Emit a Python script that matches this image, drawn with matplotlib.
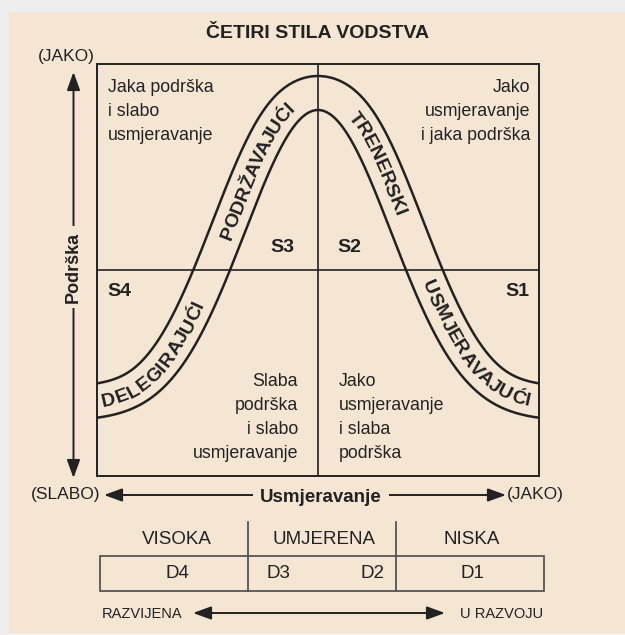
import numpy as np
import matplotlib
matplotlib.use("Agg")
import matplotlib.pyplot as plt
from matplotlib.patches import Rectangle, FancyArrowPatch
from matplotlib.font_manager import FontProperties
from matplotlib.textpath import TextToPath

# ---- chart content ----
title = "ČETIRI STILA VODSTVA"
style_names = ["DELEGIRAJUĆI", "PODRŽAVAJUĆI", "TRENERSKI", "USMJERAVAJUĆI"]
style_codes = ["S4", "S3", "S2", "S1"]
text_top_left = ["Jaka podrška", "i slabo", "usmjeravanje"]
text_top_right = ["Jako", "usmjeravanje", "i jaka podrška"]
text_bottom_left = ["Slaba", "podrška", "i slabo", "usmjeravanje"]
text_bottom_right = ["Jako", "usmjeravanje", "i slaba", "podrška"]
y_axis_label = "Podrška"
x_axis_label = "Usmjeravanje"
high_label, low_label = "(JAKO)", "(SLABO)"
dev_levels = ["VISOKA", "UMJERENA", "NISKA"]
dev_codes = ["D4", "D3", "D2", "D1"]
dev_ends = ["RAZVIJENA", "U RAZVOJU"]

# ---- layout (pixels, y down) ----
W, H = 625, 635
L, T, R, B = 97, 64, 539, 476          # main box
MX, MY = 318, 270                      # quadrant dividers
BAND = 34                              # width of the bell band
INK = "#222222"
BEIGE = "#f5e6d3"
FONT = "Liberation Sans"

fig = plt.figure(figsize=(W / 100, H / 100), dpi=100, facecolor="#eeeeee")
ax = fig.add_axes([0, 0, 1, 1])
ax.set_xlim(0, W)
ax.set_ylim(H, 0)
ax.axis("off")
ax.add_patch(Rectangle((9, 12), W, H - 14, facecolor=BEIGE, edgecolor="none", zorder=0))


def txt(x, y, s, size=12.8, weight="normal", ha="center", va="center", **kw):
    return ax.text(x, y, s, fontsize=size, fontweight=weight, ha=ha, va=va,
                   color=INK, family=FONT, **kw)


txt(MX, 33, title, size=14, weight="bold")

# box and dividers
ax.add_patch(Rectangle((L, T), R - L, B - T, fill=False, edgecolor=INK, lw=1.4, zorder=2))
ax.plot([MX, MX], [T, B], color=INK, lw=1.2, zorder=2)
ax.plot([L, R], [MY, MY], color=INK, lw=1.2, zorder=2)

# bell band
xs = np.linspace(40, 600, 1500)
dx = xs - MX
inner = B - (55 + 311 * np.exp(-dx ** 2 * 9.33e-5))


def offset(x, y, d):
    tx, ty = np.gradient(x), np.gradient(y)
    n = np.hypot(tx, ty)
    return x + d * ty / n, y - d * tx / n


outer_x, outer_y = offset(xs, inner, BAND)
mid_x, mid_y = offset(xs, inner, BAND / 2)
clip = Rectangle((L, T), R - L, B - T, transform=ax.transData)
for cx, cy in [(xs, inner), (outer_x, outer_y)]:
    ln, = ax.plot(cx, cy, color=INK, lw=1.8, zorder=3)
    ln.set_clip_path(clip)


def text_on_curve(s, cx, size=14.0):
    fp = FontProperties(family=FONT, size=size, weight="bold")
    ttp = TextToPath()
    k = 100 / 72
    widths = [0.0] + [ttp.get_text_width_height_descent(s[:i], fp, ismath=False)[0] * k
                      for i in range(1, len(s) + 1)]
    tx, ty = np.gradient(mid_x), np.gradient(mid_y)
    arc = np.concatenate([[0], np.cumsum(np.hypot(np.diff(mid_x), np.diff(mid_y)))])
    s0 = np.interp(cx, mid_x, arc) - widths[-1] / 2
    cap = 0.716 * size * k
    for i, ch in enumerate(s):
        p = s0 + (widths[i] + widths[i + 1]) / 2
        x = np.interp(p, arc, mid_x)
        y = np.interp(p, arc, mid_y)
        ux = np.interp(p, arc, tx)
        uy = np.interp(p, arc, ty)
        n = np.hypot(ux, uy)
        ux, uy = ux / n, uy / n
        # shift baseline toward the inner side so glyphs sit centred in the band
        bx, by = x - (cap / 2) * uy, y + (cap / 2) * ux
        ax.text(bx, by, ch, fontproperties=fp, color=INK, ha="center", va="baseline",
                rotation=np.degrees(np.arctan2(-uy, ux)), rotation_mode="anchor", zorder=4)


for name, cx in zip(style_names, [162, 252, 381, 466]):
    text_on_curve(name, cx)

# quadrant texts
step = 24
for i, line in enumerate(text_top_left):
    txt(108, 88 + i * step, line, ha="left")
for i, line in enumerate(text_top_right):
    txt(530, 87 + i * step, line, ha="right")
for i, line in enumerate(text_bottom_left):
    txt(298, 382 + i * step, line, ha="right")
for i, line in enumerate(text_bottom_right):
    txt(339, 382 + i * step, line, ha="left")

for code, (x, y) in zip(style_codes, [(119, 292), (282, 247), (349, 247), (517, 292)]):
    txt(x, y, code, size=14, weight="bold")

# axes arrows
head = "<|-|>,head_length=1.1,head_width=0.4"
ax.add_patch(FancyArrowPatch((73.5, 72), (73.5, 478), arrowstyle=head, mutation_scale=10,
                             color=INK, lw=1.4, shrinkA=0, shrinkB=0, zorder=2))
txt(73.5, 267, y_axis_label, size=13, weight="bold", rotation=90,
    bbox=dict(facecolor=BEIGE, edgecolor="none", pad=4), zorder=3)
txt(66, 57, high_label, size=12.5)

ax.add_patch(FancyArrowPatch((104, 495), (506, 495), arrowstyle=head, mutation_scale=10,
                             color=INK, lw=1.4, shrinkA=0, shrinkB=0, zorder=2))
txt(321, 497, x_axis_label, size=13.5, weight="bold",
    bbox=dict(facecolor=BEIGE, edgecolor="none", pad=5), zorder=3)
txt(66, 495, low_label, size=12.5)
txt(535, 495, high_label, size=12.5)

# development level table
TC = "#555555"
ax.add_patch(Rectangle((100, 556), 444, 35, fill=False, edgecolor=TC, lw=1.3))
for x in [248, 396]:
    ax.plot([x, x], [522, 591], color=TC, lw=1.3)
for lvl, x in zip(dev_levels, [177, 324, 472]):
    txt(x, 540, lvl, size=13.5)
for code, x in zip(dev_codes, [177, 278, 372, 472]):
    txt(x, 574, code, size=13.5)

ax.add_patch(FancyArrowPatch((193, 613), (445, 613), arrowstyle=head, mutation_scale=10,
                             color=INK, lw=1.4, shrinkA=0, shrinkB=0))
txt(102, 614, dev_ends[0], size=10.5, ha="left")
txt(543, 614, dev_ends[1], size=10.5, ha="right")

fig.savefig("out.png", dpi=100, facecolor=fig.get_facecolor())
